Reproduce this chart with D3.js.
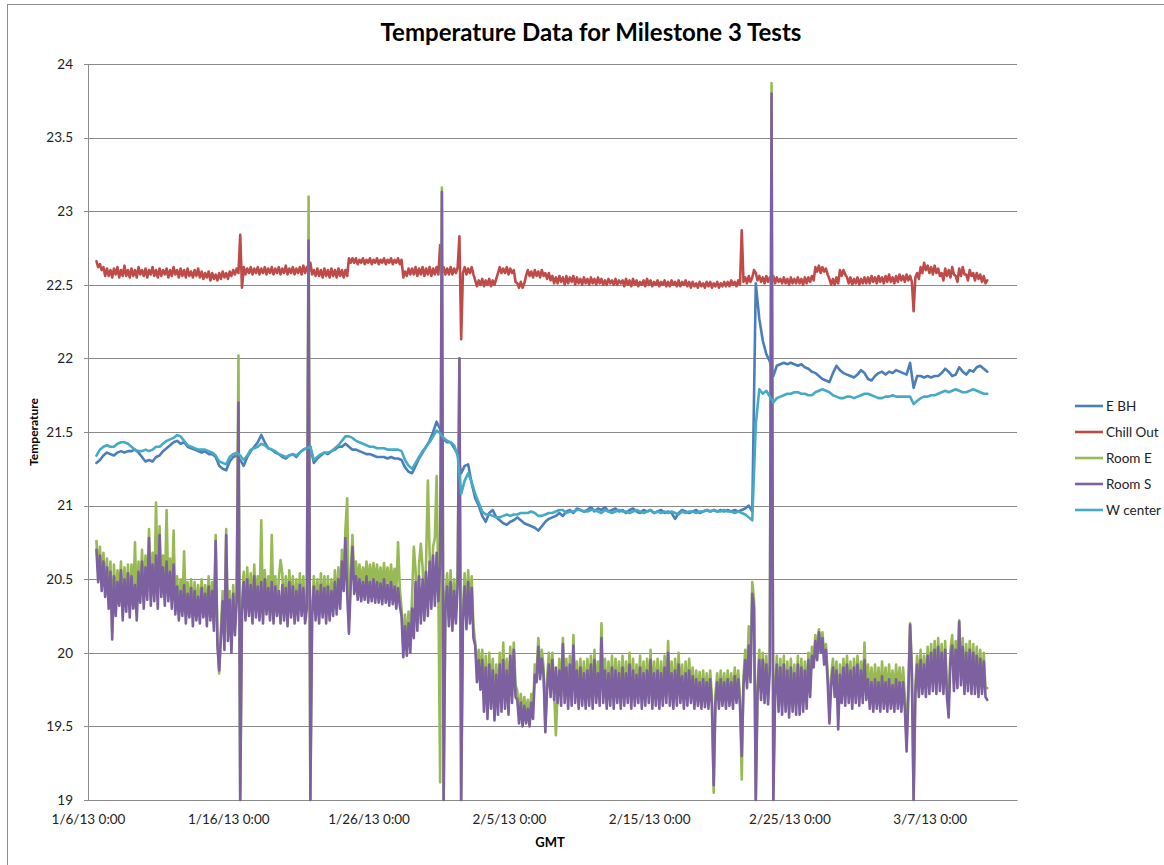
<!DOCTYPE html>
<html>
<head>
<meta charset="utf-8">
<script src="https://cdn.jsdelivr.net/npm/d3@7"></script>
<style>
  html, body { margin: 0; padding: 0; background: #fff; }
  svg { display: block; font-family: Lato, "Open Sans", sans-serif; }
</style>
</head>
<body>
<svg id="chart" width="1164" height="865"></svg>
<script>
// First reading 0.6 days after 1/6/13 0:00 GMT.
// The two wall sensors log every 6 hours, the room / chiller sensors every 3 hours.
const sampleStartDays = 0.6;
const sensorStepDays = 0.25;
const roomStepDays = 0.125;

const seriesNames = ["E BH", "Chill Out", "Room E", "Room S", "W center"];
const seriesColors = ["#4A7EBB", "#BE4B48", "#98B954", "#7D60A0", "#46AAC5"];
const seriesStepDays = [sensorStepDays, roomStepDays, roomStepDays, roomStepDays, sensorStepDays];

const yTickValues = [19, 19.5, 20, 20.5, 21, 21.5, 22, 22.5, 23, 23.5, 24];
const xTickDays = [0, 10, 20, 30, 40, 50, 60];
const xTickLabels = ["1/6/13 0:00", "1/16/13 0:00", "1/26/13 0:00", "2/5/13 0:00",
                     "2/15/13 0:00", "2/25/13 0:00", "3/7/13 0:00"];

const eBH = [
  21.29, 21.31, 21.34, 21.36, 21.35, 21.34, 21.36, 21.37, 21.36, 21.37,
  21.37, 21.38, 21.36, 21.33, 21.30, 21.31, 21.30, 21.33, 21.34, 21.37,
  21.39, 21.41, 21.43, 21.44, 21.42, 21.43, 21.40, 21.39, 21.38, 21.37,
  21.36, 21.37, 21.35, 21.35, 21.33, 21.27, 21.25, 21.24, 21.30, 21.33,
  21.34, 21.31, 21.27, 21.33, 21.37, 21.40, 21.43, 21.48, 21.43, 21.39,
  21.38, 21.36, 21.35, 21.33, 21.32, 21.34, 21.35, 21.33, 21.36, 21.38,
  21.39, 21.40, 21.29, 21.32, 21.34, 21.36, 21.35, 21.37, 21.38, 21.40,
  21.40, 21.42, 21.40, 21.38, 21.38, 21.37, 21.36, 21.35, 21.35, 21.34,
  21.33, 21.33, 21.33, 21.32, 21.33, 21.32, 21.32, 21.31, 21.26, 21.23,
  21.22, 21.27, 21.32, 21.36, 21.40, 21.44, 21.50, 21.57, 21.52, 21.45,
  21.43, 21.43, 21.39, 21.35, 21.22, 21.27, 21.28, 21.15, 21.05, 21.00,
  20.93, 20.89, 20.95, 20.97, 20.92, 20.90, 20.88, 20.87, 20.89, 20.90,
  20.92, 20.90, 20.88, 20.87, 20.86, 20.85, 20.83, 20.86, 20.89, 20.91,
  20.92, 20.93, 20.95, 20.93, 20.96, 20.97, 20.95, 20.98, 20.97, 20.96,
  20.97, 20.99, 20.96, 20.98, 20.97, 20.99, 20.96, 20.97, 20.98, 20.96,
  20.97, 20.95, 20.97, 20.98, 20.96, 20.95, 20.97, 20.96, 20.97, 20.95,
  20.96, 20.97, 20.95, 20.96, 20.95, 20.91, 20.95, 20.97, 20.96, 20.95,
  20.96, 20.97, 20.95, 20.96, 20.97, 20.96, 20.97, 20.96, 20.97, 20.96,
  20.97, 20.96, 20.97, 20.96, 20.97, 20.98, 21.00, 20.96, 22.51, 22.27,
  22.12, 22.03, 21.98, 21.88, 21.95, 21.96, 21.97, 21.96, 21.97, 21.96,
  21.95, 21.96, 21.94, 21.93, 21.91, 21.90, 21.88, 21.86, 21.85, 21.84,
  21.90, 21.95, 21.92, 21.90, 21.89, 21.88, 21.87, 21.89, 21.92, 21.90,
  21.86, 21.85, 21.88, 21.90, 21.91, 21.89, 21.91, 21.90, 21.92, 21.91,
  21.90, 21.89, 21.97, 21.80, 21.88, 21.88, 21.87, 21.88, 21.87, 21.88,
  21.88, 21.90, 21.93, 21.91, 21.88, 21.89, 21.94, 21.91, 21.89, 21.92,
  21.91, 21.94, 21.95, 21.93, 21.91
];

const chillOut = [
  22.66, 22.62, 22.64, 22.60, 22.62, 22.56, 22.61, 22.56, 22.60, 22.55, 22.61, 22.57, 22.62, 22.55, 22.60, 22.56, 22.63, 22.56, 22.60, 22.55,
  22.61, 22.56, 22.60, 22.55, 22.62, 22.57, 22.60, 22.56, 22.61, 22.55, 22.60, 22.57, 22.62, 22.56, 22.60, 22.55, 22.61, 22.56, 22.60, 22.57,
  22.61, 22.55, 22.60, 22.56, 22.62, 22.57, 22.60, 22.55, 22.61, 22.56, 22.60, 22.55, 22.61, 22.56, 22.59, 22.55, 22.60, 22.56, 22.61, 22.55,
  22.59, 22.54, 22.58, 22.55, 22.59, 22.53, 22.58, 22.54, 22.57, 22.53, 22.58, 22.54, 22.59, 22.55, 22.58, 22.54, 22.59, 22.56, 22.60, 22.57,
  22.61, 22.58, 22.84, 22.48, 22.62, 22.57, 22.61, 22.58, 22.62, 22.57, 22.61, 22.58, 22.62, 22.57, 22.61, 22.58, 22.62, 22.57, 22.61, 22.58,
  22.62, 22.57, 22.61, 22.58, 22.62, 22.57, 22.61, 22.58, 22.63, 22.57, 22.61, 22.58, 22.62, 22.57, 22.61, 22.58, 22.62, 22.57, 22.63, 22.58,
  22.62, 22.58, 22.65, 22.57, 22.60, 22.56, 22.61, 22.56, 22.60, 22.55, 22.61, 22.56, 22.60, 22.55, 22.61, 22.56, 22.60, 22.55, 22.61, 22.56,
  22.60, 22.55, 22.60, 22.56, 22.68, 22.65, 22.68, 22.65, 22.68, 22.64, 22.67, 22.65, 22.68, 22.64, 22.67, 22.65, 22.68, 22.64, 22.67, 22.65,
  22.68, 22.64, 22.67, 22.65, 22.68, 22.64, 22.67, 22.65, 22.68, 22.64, 22.67, 22.65, 22.68, 22.64, 22.67, 22.55, 22.59, 22.56, 22.61, 22.57,
  22.61, 22.57, 22.62, 22.56, 22.61, 22.57, 22.62, 22.56, 22.61, 22.57, 22.62, 22.56, 22.61, 22.57, 22.62, 22.57, 22.77, 22.58, 22.62, 22.57,
  22.61, 22.57, 22.62, 22.57, 22.61, 22.58, 22.62, 22.83, 22.13, 22.58, 22.62, 22.57, 22.61, 22.58, 22.62, 22.57, 22.53, 22.49, 22.53, 22.50,
  22.54, 22.49, 22.53, 22.50, 22.54, 22.49, 22.53, 22.50, 22.54, 22.58, 22.62, 22.58, 22.61, 22.58, 22.62, 22.57, 22.61, 22.58, 22.60, 22.52,
  22.51, 22.48, 22.52, 22.48, 22.51, 22.56, 22.60, 22.56, 22.59, 22.55, 22.60, 22.56, 22.59, 22.55, 22.60, 22.56, 22.58, 22.54, 22.58, 22.53,
  22.56, 22.51, 22.55, 22.51, 22.56, 22.52, 22.55, 22.50, 22.56, 22.51, 22.55, 22.52, 22.56, 22.50, 22.55, 22.51, 22.54, 22.50, 22.55, 22.51,
  22.54, 22.50, 22.55, 22.51, 22.54, 22.50, 22.55, 22.51, 22.54, 22.50, 22.53, 22.50, 22.54, 22.51, 22.53, 22.50, 22.54, 22.50, 22.53, 22.51,
  22.53, 22.49, 22.54, 22.50, 22.53, 22.49, 22.54, 22.50, 22.53, 22.49, 22.52, 22.50, 22.53, 22.49, 22.54, 22.50, 22.53, 22.49, 22.52, 22.50,
  22.53, 22.49, 22.52, 22.50, 22.53, 22.49, 22.52, 22.49, 22.53, 22.50, 22.52, 22.49, 22.53, 22.49, 22.52, 22.50, 22.53, 22.49, 22.52, 22.48,
  22.52, 22.49, 22.51, 22.48, 22.52, 22.49, 22.51, 22.48, 22.52, 22.49, 22.52, 22.48, 22.51, 22.49, 22.52, 22.48, 22.51, 22.49, 22.52, 22.49,
  22.52, 22.49, 22.53, 22.50, 22.52, 22.49, 22.53, 22.50, 22.87, 22.52, 22.55, 22.51, 22.56, 22.52, 22.55, 22.60, 22.58, 22.53, 22.56, 22.52,
  22.55, 22.51, 22.56, 22.52, 22.55, 22.51, 22.56, 22.51, 22.55, 22.52, 22.54, 22.51, 22.55, 22.51, 22.54, 22.50, 22.55, 22.51, 22.54, 22.51,
  22.55, 22.51, 22.54, 22.50, 22.55, 22.51, 22.55, 22.52, 22.56, 22.53, 22.62, 22.59, 22.63, 22.58, 22.62, 22.59, 22.61, 22.57, 22.54, 22.50,
  22.54, 22.50, 22.55, 22.51, 22.60, 22.56, 22.60, 22.57, 22.55, 22.51, 22.55, 22.50, 22.54, 22.51, 22.55, 22.50, 22.54, 22.51, 22.55, 22.51,
  22.55, 22.51, 22.56, 22.52, 22.55, 22.51, 22.56, 22.52, 22.55, 22.51, 22.56, 22.52, 22.57, 22.52, 22.55, 22.51, 22.56, 22.52, 22.57, 22.53,
  22.56, 22.52, 22.57, 22.53, 22.56, 22.52, 22.32, 22.55, 22.58, 22.54, 22.62, 22.58, 22.65, 22.60, 22.63, 22.58, 22.62, 22.57, 22.63, 22.58,
  22.61, 22.56, 22.58, 22.53, 22.61, 22.56, 22.60, 22.55, 22.62, 22.57, 22.56, 22.52, 22.61, 22.56, 22.62, 22.57, 22.57, 22.53, 22.60, 22.56,
  22.58, 22.53, 22.58, 22.54, 22.57, 22.52, 22.56, 22.51, 22.53
];

const roomE = [
  20.76, 20.54, 20.72, 20.48, 20.68, 20.44, 20.64, 20.36, 20.62, 20.14, 20.60, 20.32, 20.56, 20.38, 20.62, 20.28, 20.58, 20.34, 20.60, 20.30,
  20.60, 20.36, 20.75, 20.28, 20.62, 20.40, 20.70, 20.36, 20.66, 20.42, 20.84, 20.38, 20.68, 20.40, 21.02, 20.36, 20.86, 20.44, 20.66, 20.38,
  20.97, 20.40, 20.64, 20.36, 20.83, 20.32, 20.52, 20.28, 20.50, 20.30, 20.69, 20.26, 20.48, 20.30, 20.50, 20.24, 20.48, 20.28, 20.46, 20.26,
  20.50, 20.30, 20.46, 20.24, 20.52, 20.28, 20.48, 20.20, 20.80, 20.10, 19.86, 20.16, 20.42, 20.08, 20.84, 20.14, 20.42, 20.06, 20.46, 20.18,
  20.42, 22.02, 19.00, 20.34, 20.55, 20.28, 20.58, 20.30, 20.54, 20.26, 20.60, 20.30, 20.52, 20.28, 20.90, 20.26, 20.56, 20.32, 20.52, 20.28,
  20.80, 20.26, 20.52, 20.30, 20.50, 20.63, 20.54, 20.28, 20.52, 20.24, 20.56, 20.30, 20.52, 20.26, 20.50, 20.28, 20.54, 20.30, 20.52, 20.26,
  20.38, 23.10, 19.00, 20.30, 20.52, 20.28, 20.50, 20.26, 20.54, 20.30, 20.52, 20.26, 20.52, 20.28, 20.50, 20.30, 20.56, 20.32, 20.58, 20.36,
  20.70, 20.48, 20.84, 21.05, 20.22, 20.52, 20.80, 20.50, 20.62, 20.48, 20.60, 20.46, 20.58, 20.48, 20.62, 20.46, 20.60, 20.47, 20.61, 20.46,
  20.60, 20.46, 20.58, 20.45, 20.61, 20.46, 20.58, 20.44, 20.60, 20.45, 20.57, 20.42, 20.75, 20.44, 20.30, 20.04, 20.26, 20.05, 20.28, 20.08,
  20.38, 20.72, 20.56, 20.22, 20.60, 20.74, 20.58, 20.30, 20.62, 21.17, 20.68, 20.38, 20.72, 20.78, 21.20, 20.42, 19.12, 23.16, 19.00, 20.38,
  20.54, 20.25, 20.56, 20.22, 20.50, 20.28, 20.55, 22.00, 19.00, 20.30, 20.54, 20.24, 20.56, 20.28, 20.52, 20.18, 20.07, 19.88, 20.02, 19.82,
  20.02, 19.68, 19.98, 19.62, 20.00, 19.70, 19.96, 19.62, 19.92, 19.66, 20.00, 19.68, 20.07, 19.70, 19.96, 19.66, 20.04, 19.74, 20.07, 19.78,
  19.74, 19.58, 19.72, 19.56, 19.70, 19.58, 19.68, 19.56, 19.72, 19.62, 19.92, 19.86, 20.10, 19.88, 20.02, 19.90, 19.50, 19.82, 20.00, 19.78,
  20.00, 19.74, 19.44, 19.72, 19.96, 19.70, 20.10, 19.72, 19.96, 19.68, 19.98, 19.70, 20.12, 19.72, 19.94, 19.68, 19.96, 19.70, 19.94, 19.68,
  19.96, 19.70, 19.98, 19.68, 20.02, 19.72, 19.94, 19.70, 20.20, 19.72, 19.96, 19.68, 19.94, 19.70, 19.98, 19.68, 19.96, 19.72, 19.94, 19.68,
  19.98, 19.70, 19.94, 19.72, 20.00, 19.68, 19.96, 19.70, 19.92, 19.72, 19.98, 19.68, 19.94, 19.70, 19.96, 19.72, 20.02, 19.68, 19.94, 19.70,
  19.96, 19.68, 19.94, 19.70, 19.98, 19.72, 20.08, 19.70, 19.94, 19.68, 19.96, 19.70, 20.00, 19.72, 19.92, 19.68, 19.94, 19.70, 19.96, 19.72,
  19.90, 19.68, 19.88, 19.70, 19.87, 19.68, 19.88, 19.69, 19.86, 19.68, 19.88, 19.70, 19.05, 19.72, 19.86, 19.68, 19.88, 19.70, 19.86, 19.68,
  19.88, 19.70, 19.86, 19.68, 19.90, 19.72, 19.88, 19.70, 19.14, 19.84, 20.02, 19.82, 20.18, 19.88, 20.48, 20.36, 19.00, 19.78, 20.02, 19.74,
  20.00, 19.72, 19.98, 19.72, 19.94, 23.87, 19.00, 19.76, 19.98, 19.66, 19.96, 19.64, 19.98, 19.66, 19.94, 19.62, 19.96, 19.66, 19.92, 19.64,
  19.98, 19.64, 19.96, 19.66, 19.94, 19.68, 20.00, 19.76, 20.04, 19.96, 20.12, 20.00, 20.16, 20.04, 20.14, 19.98, 20.06, 19.86, 19.60, 19.84,
  19.96, 19.76, 19.94, 19.58, 19.92, 19.72, 19.96, 19.70, 19.98, 19.72, 19.94, 19.68, 19.96, 19.72, 19.98, 19.70, 19.94, 19.72, 20.07, 19.74,
  19.92, 19.72, 19.90, 19.70, 19.92, 19.72, 19.90, 19.70, 19.94, 19.72, 19.90, 19.70, 19.92, 19.72, 19.88, 19.70, 19.92, 19.72, 19.90, 19.70,
  19.90, 19.70, 19.40, 19.80, 20.20, 19.92, 19.00, 19.78, 19.98, 19.76, 20.02, 19.78, 19.98, 19.76, 20.04, 19.78, 20.06, 19.80, 20.08, 19.78,
  20.10, 19.80, 20.06, 19.78, 20.08, 19.76, 19.66, 20.02, 20.12, 19.80, 20.08, 19.82, 20.22, 19.84, 20.10, 19.78, 20.06, 19.80, 20.08, 19.78,
  20.06, 19.78, 20.04, 19.76, 20.02, 19.78, 20.00, 19.76, 19.76
];

const roomS = [
  20.70, 20.48, 20.66, 20.42, 20.62, 20.38, 20.58, 20.30, 20.55, 20.09, 20.52, 20.25, 20.48, 20.32, 20.56, 20.22, 20.50, 20.28, 20.54, 20.24,
  20.52, 20.30, 20.46, 20.22, 20.55, 20.34, 20.62, 20.30, 20.58, 20.36, 20.78, 20.32, 20.60, 20.35, 20.66, 20.30, 20.80, 20.38, 20.58, 20.32,
  20.62, 20.35, 20.55, 20.30, 20.60, 20.26, 20.45, 20.22, 20.42, 20.25, 20.46, 20.20, 20.40, 20.24, 20.44, 20.18, 20.42, 20.22, 20.38, 20.20,
  20.44, 20.24, 20.40, 20.18, 20.45, 20.22, 20.42, 20.15, 20.76, 20.05, 19.88, 20.10, 20.35, 20.02, 20.80, 20.08, 20.36, 20.00, 20.40, 20.12,
  20.35, 21.70, 19.00, 20.28, 20.48, 20.22, 20.50, 20.25, 20.46, 20.20, 20.52, 20.24, 20.45, 20.22, 20.48, 20.20, 20.50, 20.26, 20.44, 20.22,
  20.48, 20.20, 20.45, 20.25, 20.42, 20.20, 20.46, 20.22, 20.44, 20.18, 20.48, 20.24, 20.45, 20.20, 20.42, 20.22, 20.46, 20.25, 20.44, 20.20,
  20.30, 22.80, 19.00, 20.25, 20.45, 20.22, 20.42, 20.20, 20.46, 20.24, 20.44, 20.20, 20.45, 20.22, 20.42, 20.25, 20.48, 20.26, 20.50, 20.30,
  20.62, 20.42, 20.78, 20.40, 20.13, 20.45, 20.72, 20.40, 20.52, 20.36, 20.50, 20.35, 20.48, 20.36, 20.52, 20.34, 20.48, 20.35, 20.50, 20.34,
  20.48, 20.34, 20.47, 20.33, 20.50, 20.34, 20.46, 20.32, 20.48, 20.33, 20.45, 20.30, 20.44, 20.32, 20.25, 19.97, 20.18, 19.98, 20.20, 20.00,
  20.30, 20.10, 20.48, 20.15, 20.52, 20.20, 20.50, 20.22, 20.55, 20.25, 20.62, 20.30, 20.66, 20.32, 20.68, 20.35, 20.60, 23.13, 19.00, 20.30,
  20.45, 20.18, 20.48, 20.15, 20.42, 20.20, 20.46, 22.00, 19.00, 20.22, 20.45, 20.16, 20.48, 20.20, 20.44, 20.10, 20.05, 19.80, 19.95, 19.75,
  19.95, 19.60, 19.90, 19.55, 19.92, 19.62, 19.88, 19.54, 19.85, 19.58, 19.92, 19.60, 19.95, 19.62, 19.88, 19.58, 19.98, 19.66, 20.02, 19.70,
  19.68, 19.52, 19.66, 19.50, 19.64, 19.52, 19.62, 19.50, 19.66, 19.55, 19.85, 19.80, 20.04, 19.82, 19.96, 19.84, 19.46, 19.75, 19.92, 19.70,
  19.95, 19.68, 19.90, 19.66, 19.88, 19.64, 20.06, 19.66, 19.90, 19.62, 19.92, 19.64, 20.05, 19.66, 19.88, 19.62, 19.90, 19.64, 19.86, 19.62,
  19.88, 19.64, 19.92, 19.62, 19.95, 19.66, 19.86, 19.64, 20.10, 19.66, 19.88, 19.62, 19.86, 19.64, 19.90, 19.62, 19.88, 19.66, 19.86, 19.62,
  19.90, 19.64, 19.86, 19.66, 19.92, 19.62, 19.88, 19.64, 19.85, 19.66, 19.90, 19.62, 19.86, 19.64, 19.88, 19.66, 19.95, 19.62, 19.86, 19.64,
  19.88, 19.62, 19.86, 19.64, 19.90, 19.66, 20.00, 19.64, 19.86, 19.62, 19.88, 19.64, 19.92, 19.66, 19.84, 19.62, 19.86, 19.64, 19.88, 19.66,
  19.84, 19.62, 19.82, 19.64, 19.80, 19.62, 19.82, 19.63, 19.80, 19.62, 19.82, 19.64, 19.10, 19.66, 19.80, 19.62, 19.82, 19.64, 19.80, 19.62,
  19.82, 19.64, 19.80, 19.62, 19.84, 19.66, 19.82, 19.64, 19.30, 19.78, 19.95, 19.76, 20.05, 19.80, 20.40, 20.30, 19.00, 19.72, 19.95, 19.68,
  19.95, 19.66, 19.92, 19.65, 19.88, 23.80, 19.00, 19.70, 19.92, 19.60, 19.90, 19.58, 19.92, 19.60, 19.88, 19.56, 19.90, 19.60, 19.86, 19.58,
  19.92, 19.58, 19.90, 19.60, 19.88, 19.62, 19.95, 19.70, 19.98, 19.90, 20.08, 19.95, 20.14, 20.00, 20.10, 19.92, 20.02, 19.80, 19.52, 19.78,
  19.90, 19.70, 19.88, 19.48, 19.85, 19.66, 19.90, 19.64, 19.92, 19.66, 19.88, 19.62, 19.90, 19.66, 19.92, 19.64, 19.88, 19.66, 19.95, 19.68,
  19.82, 19.62, 19.80, 19.60, 19.82, 19.62, 19.80, 19.60, 19.84, 19.62, 19.80, 19.60, 19.82, 19.62, 19.78, 19.60, 19.82, 19.62, 19.80, 19.60,
  19.80, 19.62, 19.33, 19.70, 20.19, 19.85, 19.00, 19.72, 19.92, 19.70, 19.95, 19.72, 19.92, 19.70, 19.98, 19.72, 20.00, 19.74, 20.02, 19.72,
  20.04, 19.74, 20.00, 19.72, 20.02, 19.70, 19.56, 19.95, 20.05, 19.74, 20.02, 19.76, 20.21, 19.78, 20.04, 19.72, 20.00, 19.74, 20.02, 19.72,
  20.00, 19.72, 19.98, 19.70, 19.96, 19.72, 19.94, 19.70, 19.68
];

const wCenter = [
  21.34, 21.38, 21.40, 21.41, 21.40, 21.40, 21.42, 21.43, 21.43, 21.42,
  21.40, 21.38, 21.37, 21.37, 21.38, 21.37, 21.38, 21.40, 21.40, 21.42,
  21.44, 21.45, 21.46, 21.48, 21.47, 21.44, 21.41, 21.40, 21.39, 21.38,
  21.38, 21.38, 21.37, 21.36, 21.34, 21.30, 21.29, 21.28, 21.33, 21.35,
  21.36, 21.34, 21.31, 21.34, 21.38, 21.39, 21.40, 21.42, 21.41, 21.39,
  21.38, 21.37, 21.35, 21.34, 21.33, 21.34, 21.35, 21.34, 21.36, 21.38,
  21.39, 21.40, 21.31, 21.33, 21.35, 21.36, 21.36, 21.37, 21.39, 21.41,
  21.44, 21.47, 21.47, 21.46, 21.44, 21.43, 21.42, 21.41, 21.40, 21.40,
  21.39, 21.39, 21.39, 21.38, 21.38, 21.38, 21.38, 21.37, 21.31, 21.27,
  21.25, 21.29, 21.33, 21.37, 21.40, 21.43, 21.47, 21.51, 21.49, 21.46,
  21.44, 21.43, 21.41, 21.34, 21.08, 21.17, 21.22, 21.16, 21.08, 21.02,
  20.96, 20.94, 20.94, 20.93, 20.92, 20.92, 20.93, 20.94, 20.93, 20.94,
  20.94, 20.95, 20.95, 20.95, 20.96, 20.95, 20.93, 20.93, 20.94, 20.95,
  20.95, 20.96, 20.97, 20.97, 20.95, 20.96, 20.96, 20.97, 20.97, 20.96,
  20.96, 20.97, 20.97, 20.96, 20.95, 20.97, 20.96, 20.95, 20.96, 20.97,
  20.96, 20.96, 20.95, 20.96, 20.97, 20.96, 20.95, 20.96, 20.97, 20.95,
  20.96, 20.95, 20.96, 20.95, 20.96, 20.95, 20.94, 20.96, 20.95, 20.96,
  20.96, 20.95, 20.96, 20.96, 20.97, 20.96, 20.97, 20.96, 20.96, 20.97,
  20.96, 20.96, 20.95, 20.96, 20.95, 20.94, 20.92, 20.90, 21.55, 21.79,
  21.76, 21.78, 21.74, 21.70, 21.73, 21.74, 21.75, 21.76, 21.76, 21.77,
  21.77, 21.76, 21.76, 21.75, 21.75, 21.77, 21.78, 21.79, 21.78, 21.77,
  21.75, 21.74, 21.73, 21.73, 21.74, 21.74, 21.73, 21.74, 21.75, 21.76,
  21.76, 21.75, 21.74, 21.73, 21.73, 21.74, 21.74, 21.75, 21.74, 21.74,
  21.74, 21.74, 21.74, 21.69, 21.71, 21.73, 21.74, 21.74, 21.75, 21.75,
  21.76, 21.77, 21.78, 21.77, 21.78, 21.79, 21.78, 21.77, 21.77, 21.78,
  21.79, 21.78, 21.77, 21.76, 21.76
];

const seriesValues = [eBH, chillOut, roomE, roomS, wCenter];

// ---------- layout ----------
const DAY_MS = 864e5;
const origin = Date.UTC(2013, 0, 6);
const plot = { left: 88, top: 64, right: 1017, bottom: 800 };

const svg = d3.select("#chart");

// outer chart frame
svg.append("rect")
  .attr("x", 7.5).attr("y", 4.5)
  .attr("width", 1170).attr("height", 880)
  .attr("fill", "none").attr("stroke", "#8c8c8c").attr("stroke-width", 1);

const x = d3.scaleUtc()
  .domain([new Date(origin), new Date(origin + 66.22 * DAY_MS)])
  .range([plot.left, plot.right]);

const y = d3.scaleLinear()
  .domain([19, 24])
  .range([plot.bottom, plot.top]);

// horizontal gridlines
svg.append("g")
  .selectAll("line")
  .data(yTickValues)
  .join("line")
  .attr("x1", plot.left - 4).attr("x2", plot.right)
  .attr("y1", d => Math.round(y(d)) + 0.5).attr("y2", d => Math.round(y(d)) + 0.5)
  .attr("stroke", "#8a8a8a").attr("stroke-width", 1);

// y axis line
svg.append("line")
  .attr("x1", plot.left + 0.5).attr("x2", plot.left + 0.5)
  .attr("y1", plot.top).attr("y2", plot.bottom)
  .attr("stroke", "#8a8a8a");

// y tick labels
const yAxis = d3.axisLeft(y).tickValues(yTickValues).tickSize(0).tickPadding(15)
  .tickFormat(d3.format("~g"));
const yg = svg.append("g").attr("transform", `translate(${plot.left},0)`).call(yAxis);
yg.select(".domain").remove();
yg.selectAll("text")
  .attr("font-family", "Lato, 'Open Sans', sans-serif")
  .attr("font-size", 13.5).attr("fill", "#222");

// x tick labels
const xTickDates = xTickDays.map(d => new Date(origin + d * DAY_MS));
const xAxis = d3.axisBottom(x).tickValues(xTickDates).tickSize(0).tickPadding(14)
  .tickFormat((d, i) => xTickLabels[i]);
const xg = svg.append("g").attr("transform", `translate(0,${plot.bottom})`).call(xAxis);
xg.select(".domain").attr("stroke", "#8a8a8a");
xg.selectAll("text")
  .attr("font-family", "Lato, 'Open Sans', sans-serif")
  .attr("font-size", 13.5).attr("fill", "#222");

// series lines, each on its own logging interval
const line = step => d3.line()
  .x((v, i) => x(new Date(origin + (sampleStartDays + i * step) * DAY_MS)))
  .y(v => y(v));

svg.append("g")
  .selectAll("path")
  .data(seriesValues)
  .join("path")
  .attr("d", (d, k) => line(seriesStepDays[k])(d))
  .attr("fill", "none")
  .attr("stroke", (d, k) => seriesColors[k])
  .attr("stroke-width", 2.6)
  .attr("stroke-linejoin", "round")
  .attr("stroke-linecap", "round");

// title
svg.append("text")
  .attr("x", 591).attr("y", 41)
  .attr("text-anchor", "middle")
  .attr("font-size", 24).attr("font-weight", "bold").attr("fill", "#000")
  .text("Temperature Data for Milestone 3 Tests");

// axis titles
svg.append("text")
  .attr("transform", "translate(38,432) rotate(-90)")
  .attr("text-anchor", "middle")
  .attr("font-size", 12).attr("font-weight", "bold").attr("fill", "#000")
  .text("Temperature");

svg.append("text")
  .attr("x", 550).attr("y", 847)
  .attr("text-anchor", "middle")
  .attr("font-size", 13).attr("font-weight", "bold").attr("fill", "#000")
  .text("GMT");

// legend
const legend = svg.append("g").attr("transform", "translate(1075,406)");
const entry = legend.selectAll("g")
  .data(seriesNames)
  .join("g")
  .attr("transform", (d, i) => `translate(0,${i * 26})`);
entry.append("line")
  .attr("x1", 0).attr("x2", 28).attr("y1", 0).attr("y2", 0)
  .attr("stroke", (d, i) => seriesColors[i]).attr("stroke-width", 2.6);
entry.append("text")
  .attr("x", 31).attr("y", 0).attr("dy", "0.35em")
  .attr("font-size", 13.5).attr("fill", "#222")
  .text(d => d);
</script>
</body>
</html>
